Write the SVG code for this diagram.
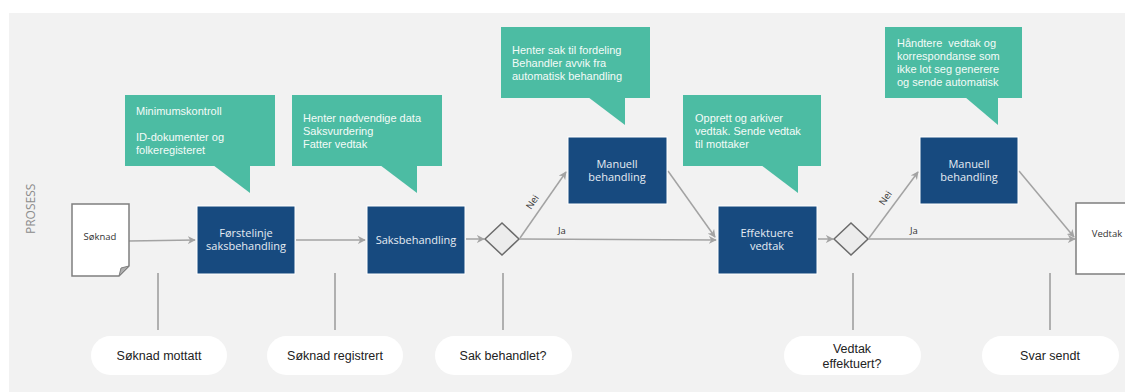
<svg xmlns="http://www.w3.org/2000/svg" width="1125" height="392" viewBox="0 0 1125 392">
  <style>
    .lane { fill: #f2f2f2; }
    .lane-label { font-family: "Open Sans", "DejaVu Sans", sans-serif; font-size: 12px; fill: #8c8c8c; }
    .callout { fill: #4cbca3; }
    .callout-text { font-family: "Liberation Sans", Arial, sans-serif; font-size: 11px; fill: #f4fbf8; }
    .task { fill: #174a7f; stroke: #ffffff; stroke-width: 1; }
    .task-text { font-family: "Open Sans", "DejaVu Sans", sans-serif; font-size: 11px; fill: #e6ecf3; text-anchor: middle; }
    .doc { fill: #ffffff; stroke: #7f7f7f; stroke-width: 1.5; }
    .doc-text { font-family: "Open Sans", "DejaVu Sans", sans-serif; font-size: 9.5px; fill: #333333; text-anchor: middle; }
    .gateway { fill: #ececec; stroke: #6b6b6b; stroke-width: 1.5; }
    .flow { fill: none; stroke: #a3a3a3; stroke-width: 1.5; marker-end: url(#arrow); }
    .tick { stroke: #9a9a9a; stroke-width: 1.5; }
    .flow-label { font-family: "Open Sans", "DejaVu Sans", sans-serif; font-size: 9.5px; fill: #333333; }
    .milestone { fill: #ffffff; }
    .milestone-text { font-family: "Liberation Sans", Arial, sans-serif; font-size: 12.5px; fill: #222222; text-anchor: middle; }
  </style>
  <defs>
    <marker id="arrow" viewBox="0 0 10 10" refX="9" refY="5" markerWidth="8" markerHeight="8" markerUnits="userSpaceOnUse" orient="auto">
      <path d="M0,0 L10,5 L0,10 L3,5 z" fill="#a3a3a3"/>
    </marker>
  </defs>

  <!-- swimlane background -->
  <rect class="lane" x="9" y="13" width="1116" height="379"/>
  <text class="lane-label" transform="translate(35,234) rotate(-90)">PROSESS</text>

  <!-- speech-bubble annotations -->
  <g id="note-minimumskontroll">
    <rect class="callout" x="125" y="95" width="150" height="71"/>
    <polygon class="callout" points="213,165 250,165 250,193"/>
    <text class="callout-text" x="136" y="115">Minimumskontroll</text>
    <text class="callout-text" x="136" y="141">ID-dokumenter og</text>
    <text class="callout-text" x="136" y="154">folkeregisteret</text>
  </g>
  <g id="note-saksbehandling">
    <rect class="callout" x="292" y="95" width="150" height="71"/>
    <polygon class="callout" points="380,165 417,165 417,193"/>
    <text class="callout-text" x="303" y="122">Henter nødvendige data</text>
    <text class="callout-text" x="303" y="135">Saksvurdering</text>
    <text class="callout-text" x="303" y="148">Fatter vedtak</text>
  </g>
  <g id="note-manuell-1">
    <rect class="callout" x="501" y="27" width="149" height="71"/>
    <polygon class="callout" points="588,97 625,97 625,125"/>
    <text class="callout-text" x="512" y="54">Henter sak til fordeling</text>
    <text class="callout-text" x="512" y="67">Behandler avvik fra</text>
    <text class="callout-text" x="512" y="80">automatisk behandling</text>
  </g>
  <g id="note-effektuere">
    <rect class="callout" x="683" y="95" width="138" height="71"/>
    <polygon class="callout" points="761,165 798,165 798,193"/>
    <text class="callout-text" x="695" y="122">Opprett og arkiver</text>
    <text class="callout-text" x="695" y="135">vedtak. Sende vedtak</text>
    <text class="callout-text" x="695" y="148">til mottaker</text>
  </g>
  <g id="note-manuell-2">
    <rect class="callout" x="885" y="27" width="137" height="71"/>
    <polygon class="callout" points="965,97 998,97 998,125"/>
    <text class="callout-text" x="897" y="47" xml:space="preserve">Håndtere  vedtak og</text>
    <text class="callout-text" x="897" y="60">korrespondanse som</text>
    <text class="callout-text" x="897" y="73">ikke lot seg generere</text>
    <text class="callout-text" x="897" y="86">og sende automatisk</text>
  </g>

  <!-- sequence flows -->
  <g id="connectors">
    <line class="flow" x1="129" y1="241" x2="195" y2="240"/>
    <line class="flow" x1="296" y1="240" x2="365" y2="240"/>
    <line class="flow" x1="466" y1="239" x2="484" y2="239"/>
    <line class="flow" x1="520" y1="238" x2="566" y2="172"/>
    <line class="flow" x1="520" y1="239" x2="716" y2="240"/>
    <line class="flow" x1="668" y1="171" x2="715" y2="237"/>
    <line class="flow" x1="818" y1="239" x2="833" y2="239"/>
    <line class="flow" x1="869" y1="238" x2="918" y2="172"/>
    <line class="flow" x1="869" y1="239" x2="1075" y2="239"/>
    <line class="flow" x1="1019" y1="171" x2="1074" y2="237"/>
    <text class="flow-label" transform="translate(531,210) rotate(-56)">Nei</text>
    <text class="flow-label" x="558" y="234">Ja</text>
    <text class="flow-label" transform="translate(884,206) rotate(-56)">Nei</text>
    <text class="flow-label" x="910" y="234">Ja</text>
    <!-- milestone ticks -->
    <line class="tick" x1="158" y1="273" x2="158" y2="330"/>
    <line class="tick" x1="335" y1="273" x2="335" y2="330"/>
    <line class="tick" x1="503" y1="273" x2="503" y2="330"/>
    <line class="tick" x1="853" y1="273" x2="853" y2="330"/>
    <line class="tick" x1="1050" y1="273" x2="1050" y2="330"/>
  </g>

  <!-- documents -->
  <g id="doc-soknad">
    <path class="doc" d="M72,204 H129 V266 L119,276 H72 Z"/>
    <path d="M129,266 L119,276 L121,268 Z" fill="#b0b0b0" stroke="#7f7f7f" stroke-width="1"/>
    <text class="doc-text" x="100" y="240">Søknad</text>
  </g>
  <g id="doc-vedtak">
    <rect class="doc" x="1076" y="203" width="60" height="71"/>
    <text class="doc-text" x="1107" y="237">Vedtak</text>
  </g>

  <!-- tasks -->
  <g id="task-forstelinje">
    <rect class="task" x="197" y="206" width="98" height="68"/>
    <text class="task-text" x="246" y="237">Førstelinje</text>
    <text class="task-text" x="246" y="250">saksbehandling</text>
  </g>
  <g id="task-saksbehandling">
    <rect class="task" x="367" y="206" width="98" height="68"/>
    <text class="task-text" x="416" y="244">Saksbehandling</text>
  </g>
  <g id="task-manuell-1">
    <rect class="task" x="568" y="137" width="99" height="67"/>
    <text class="task-text" x="617" y="168">Manuell</text>
    <text class="task-text" x="617" y="181">behandling</text>
  </g>
  <g id="task-effektuere">
    <rect class="task" x="718" y="206" width="99" height="68"/>
    <text class="task-text" x="767" y="237">Effektuere</text>
    <text class="task-text" x="767" y="250">vedtak</text>
  </g>
  <g id="task-manuell-2">
    <rect class="task" x="920" y="137" width="98" height="67"/>
    <text class="task-text" x="969" y="168">Manuell</text>
    <text class="task-text" x="969" y="181">behandling</text>
  </g>

  <!-- gateways -->
  <g id="gateway-sak">
    <polygon class="gateway" points="485,239 502,223 519,239 502,255"/>
  </g>
  <g id="gateway-vedtak">
    <polygon class="gateway" points="834,239 851,223 868,239 851,255"/>
  </g>

  <!-- milestones -->
  <g id="ms-mottatt">
    <rect class="milestone" x="91" y="336" width="136" height="39" rx="19.5"/>
    <text class="milestone-text" x="159" y="360">Søknad mottatt</text>
  </g>
  <g id="ms-registrert">
    <rect class="milestone" x="267" y="336" width="136" height="39" rx="19.5"/>
    <text class="milestone-text" x="335" y="360">Søknad registrert</text>
  </g>
  <g id="ms-behandlet">
    <rect class="milestone" x="435" y="336" width="137" height="39" rx="19.5"/>
    <text class="milestone-text" x="503" y="360">Sak behandlet?</text>
  </g>
  <g id="ms-effektuert">
    <rect class="milestone" x="784" y="336" width="137" height="39" rx="19.5"/>
    <text class="milestone-text" x="852" y="353">Vedtak</text>
    <text class="milestone-text" x="852" y="368">effektuert?</text>
  </g>
  <g id="ms-sendt">
    <rect class="milestone" x="982" y="336" width="137" height="39" rx="19.5"/>
    <text class="milestone-text" x="1050" y="360">Svar sendt</text>
  </g>
</svg>
